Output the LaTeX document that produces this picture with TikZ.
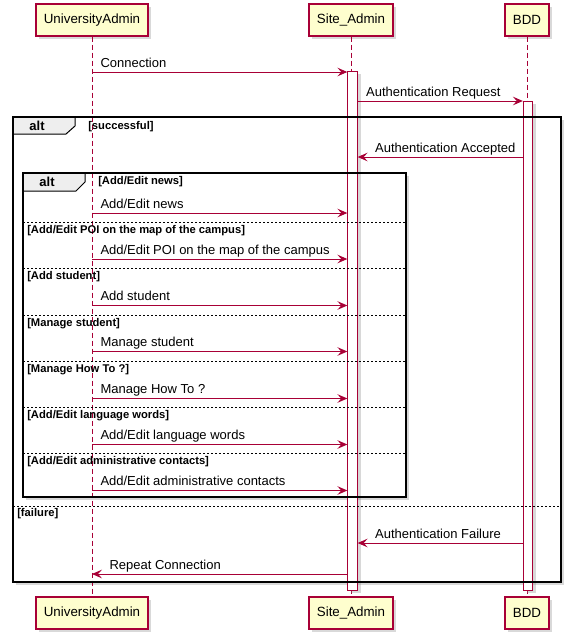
\documentclass[tikz,border=0pt]{standalone}
\usepackage{fontspec}
\setmainfont{Liberation Sans}
\usetikzlibrary{arrows.meta,shadows}

\definecolor{umlred}{HTML}{A80036}
\definecolor{umlbox}{HTML}{FEFECE}
\definecolor{umltab}{HTML}{EEEEEE}

\tikzset{
  shade/.style={drop shadow={shadow xshift=2.5pt, shadow yshift=-2.5pt, opacity=0.3}},
  part/.style={draw=umlred, fill=umlbox, line width=1pt, minimum height=24pt, inner xsep=6pt, inner ysep=0pt, font=\fontsize{10}{12}\selectfont, shade},
  life/.style={umlred, line width=0.75pt, dash pattern=on 3.75pt off 2.25pt},
  bar/.style={draw=umlred, fill=white, line width=0.75pt, minimum width=7pt, inner sep=0pt, shade},
  msg/.style={umlred, line width=0.75pt, -{Stealth[length=7.5pt, width=6.5pt, inset=3pt]}},
  lblr/.style={black, anchor=base west, inner sep=0pt, xshift=6pt, yshift=3.75pt, font=\fontsize{9.75}{11}\selectfont},
  lbll/.style={lblr, xshift=6.75pt},
  frame/.style={black, line width=1.5pt},
  tabbox/.style={draw=black, fill=umltab, line width=0.75pt},
  tabtxt/.style={inner sep=0pt, font=\fontsize{9.75}{11}\selectfont\bfseries},
  guard/.style={anchor=west, inner sep=0pt, font=\fontsize{8.4}{10}\selectfont\bfseries},
  sep/.style={black, line width=0.6pt, dash pattern=on 1.5pt off 1.5pt}
}

\begin{document}
\begin{tikzpicture}[x=0.75pt, y=-0.75pt]
  \useasboundingbox (0,0) rectangle (572,640);

  % participants
  \node[part] (ua) at (92,20) {UniversityAdmin};
  \node[part] (sa) at (351,20) {Site\_Admin};
  \node[part] (bdd) at (527,20) {BDD};
  \node[part] (ua2) at (92,613) {UniversityAdmin};
  \node[part] (sa2) at (351,613) {Site\_Admin};
  \node[part] (bdd2) at (527,613) {BDD};

  % frame backgrounds
  \path[fill=white, shade] (13,117) rectangle (561,582);
  \path[fill=white, shade] (23,173) rectangle (406,497);

  % lifelines and activations
  \draw[life] (ua) -- (ua2);
  \draw[life] (sa) -- (sa2);
  \draw[life] (bdd) -- (bdd2);
  \node[bar, minimum height=389.25pt] (sab) at (352.5,330.5) {};
  \node[bar, minimum height=366.75pt] (bddb) at (528,345.5) {};

  % outer alt
  \draw[tabbox] (13,117) -- (75,117) -- (75,126) -- (66,134) -- (13,134) -- cycle;
  \draw[frame] (13,117) rectangle (561,582);
  \node[tabtxt] (alt1) at (37,126) {alt};
  \node[guard] (g1) at (88,127) {[successful]};
  \draw[sep] (13,506) -- (561,506);
  \node[guard] (g2) at (17,514) {[failure]};

  % inner alt
  \draw[tabbox] (23,173) -- (85,173) -- (85,182) -- (76,191) -- (23,191) -- cycle;
  \draw[frame] (23,173) rectangle (406,497);
  \node[tabtxt] (alt2) at (47,182) {alt};
  \node[guard] (h1) at (98,182) {[Add/Edit news]};
  \draw[sep] (23,222) -- (406,222);
  \node[guard] (h2) at (27,230.5) {[Add/Edit POI on the map of the campus]};
  \draw[sep] (23,268) -- (406,268);
  \node[guard] (h3) at (27,276.5) {[Add student]};
  \draw[sep] (23,315) -- (406,315);
  \node[guard] (h4) at (27,323.5) {[Manage student]};
  \draw[sep] (23,361) -- (406,361);
  \node[guard] (h5) at (27,369.5) {[Manage How To ?]};
  \draw[sep] (23,407) -- (406,407);
  \node[guard] (h6) at (27,415.5) {[Add/Edit language words]};
  \draw[sep] (23,453) -- (406,453);
  \node[guard] (h7) at (27,461.5) {[Add/Edit administrative contacts]};

  % messages
  \draw[msg] (ua |- 0,72) node[lblr] {Connection} -- (sab.west |- 0,72);
  \draw[msg] (sab.east |- 0,101) node[lblr] {Authentication Request} -- (bddb.west |- 0,101);
  \draw[msg] (bddb.west |- 0,157) -- (sab.east |- 0,157) node[lbll] {Authentication Accepted};
  \draw[msg] (ua |- 0,213) node[lblr] {Add/Edit news} -- (sab.west |- 0,213);
  \draw[msg] (ua |- 0,259) node[lblr] {Add/Edit POI on the map of the campus} -- (sab.west |- 0,259);
  \draw[msg] (ua |- 0,305.5) node[lblr] {Add student} -- (sab.west |- 0,305.5);
  \draw[msg] (ua |- 0,351.5) node[lblr] {Manage student} -- (sab.west |- 0,351.5);
  \draw[msg] (ua |- 0,398.5) node[lblr] {Manage How To ?} -- (sab.west |- 0,398.5);
  \draw[msg] (ua |- 0,444.5) node[lblr] {Add/Edit language words} -- (sab.west |- 0,444.5);
  \draw[msg] (ua |- 0,490.5) node[lblr] {Add/Edit administrative contacts} -- (sab.west |- 0,490.5);
  \draw[msg] (bddb.west |- 0,543) -- (sab.east |- 0,543) node[lbll] {Authentication Failure};
  \draw[msg] (sab.west |- 0,574) -- (ua |- 0,574) node[lbll] {Repeat Connection};
\end{tikzpicture}
\end{document}
